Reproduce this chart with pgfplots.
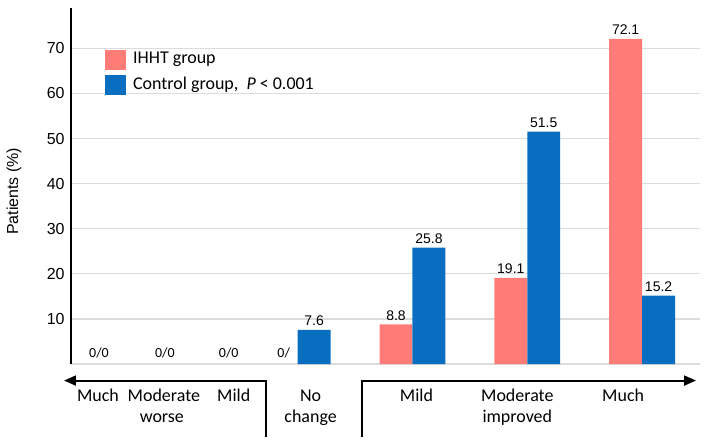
\documentclass[border=0pt]{standalone}
\usepackage{pgfplots}
\pgfplotsset{compat=1.18}
\usepackage{fontspec}
\setmainfont{Carlito}
\newfontfamily\arialfont{Liberation Sans}
\usetikzlibrary{arrows.meta}

\definecolor{ihht}{HTML}{FF7C77}
\definecolor{ctrl}{HTML}{0A6EC0}
\definecolor{gridgray}{HTML}{DCDCDC}

\begin{document}
\begin{tikzpicture}
\begin{axis}[
    scale only axis,
    width=315pt, height=178.5pt,
    xmin=70, xmax=700,
    ymin=0, ymax=79,
    clip=false,
    axis y line*=left,
    axis x line*=bottom,
    y axis line style={black, line width=0.8pt},
    x axis line style={gridgray, line width=0.6pt},
    xtick=\empty,
    ytick={10,20,...,70},
    major tick length=0pt,
    ymajorgrids,
    grid style={gridgray, line width=0.6pt},
    /pgf/number format/assume math mode=true,
    yticklabel style={font=\arialfont\fontsize{8}{9}\selectfont, inner sep=0pt, xshift=-3pt},
    bar width=33,
    legend style={at={(axis cs:104,69.8)}, anchor=north west, draw=none, fill=none,
        inner sep=0pt, row sep=3pt, column sep=2.5pt, font=\fontsize{9}{10}\selectfont,
        nodes={inner sep=1pt}, cells={anchor=west}},
    nodes near coords,
    every node near coord/.append style={font=\arialfont\fontsize{7}{8}\selectfont, inner sep=1.8pt, black},
]
% IHHT group (bar centres; zero in the first four categories)
\addplot[ybar, bar shift=0pt, fill=ihht, draw=none, forget plot]
    coordinates {(395.5,8.8) (510.5,19.1) (625.5,72.1)};
% Control group (bar centres; zero in the three "worse" categories)
\addplot[ybar, bar shift=0pt, fill=ctrl, draw=none, forget plot]
    coordinates {(313.5,7.6) (428.5,25.8) (543.5,51.5) (658.5,15.2)};

\addlegendimage{legend image code/.code={\fill[ihht] (0pt,-4.75pt) rectangle (10pt,4.75pt);}}
\addlegendentry{IHHT group}
\addlegendimage{legend image code/.code={\fill[ctrl] (0pt,-4.75pt) rectangle (10pt,4.75pt);}}
\addlegendentry{Control group,~~\textit{P} < 0.001}

% zero labels
\begin{scope}[every node/.style={font=\fontsize{7}{8}\selectfont, anchor=base, inner sep=0pt}]
\node at (axis cs:98,1.45) {0/0};
\node at (axis cs:164,1.45) {0/0};
\node at (axis cs:228,1.45) {0/0};
\node at (axis cs:283,1.45) {0/};
\end{scope}

% y label
\node[rotate=90, font=\arialfont\fontsize{8}{9}\selectfont] at (axis cs:13,38.3) {Patients (\%)};

% direction arrows
\draw[line width=1pt, -{Triangle[length=6pt,width=5pt]}]
    (axis cs:265,-16.05) -- (axis cs:265,-3.65) -- (axis cs:63,-3.65);
\draw[line width=1pt, -{Triangle[length=6pt,width=5pt]}]
    (axis cs:361,-16.05) -- (axis cs:361,-3.65) -- (axis cs:696,-3.65);

% category labels
\begin{scope}[every node/.style={font=\fontsize{9}{11}\selectfont, anchor=base, inner sep=0pt}]
\node at (axis cs:97,-8.24) {Much};
\node at (axis cs:163,-8.24) {Moderate};
\node at (axis cs:161,-13.02) {worse};
\node at (axis cs:233,-8.24) {Mild};
\node at (axis cs:310,-8.24) {No};
\node at (axis cs:310,-13.02) {change};
\node at (axis cs:416,-8.24) {Mild};
\node at (axis cs:517,-8.24) {Moderate};
\node at (axis cs:517,-13.02) {improved};
\node at (axis cs:623,-8.24) {Much};
\end{scope}

\path (axis cs:0,80.7) rectangle (axis cs:709,-16.94);
\end{axis}
\end{tikzpicture}
\end{document}
